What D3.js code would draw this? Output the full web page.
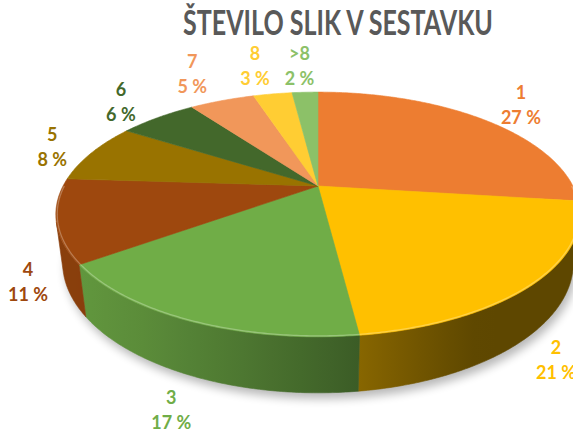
<!DOCTYPE html>
<html>
<head>
<meta charset="utf-8">
<script src="https://cdn.jsdelivr.net/npm/d3@7"></script>
<style>
  body { margin: 0; background: #fff; }
  svg { display: block; }
  text { font-family: Lato, "Open Sans", sans-serif; font-weight: bold; }
</style>
</head>
<body>
<svg id="chart" width="573" height="431"></svg>
<script>
var categories = ["1", "2", "3", "4", "5", "6", "7", "8", ">8"];
var shares = [27, 21, 17, 11, 8, 6, 5, 3, 2];
var colors = ["#ED7D31", "#FFC000", "#70AD47", "#9E480E", "#997300", "#43682B", "#F1975A", "#FFCD33", "#8CC168"];
var title = "ŠTEVILO SLIK V SESTAVKU";

var width = 573, height = 431;
var svg = d3.select("#chart");
var defs = svg.append("defs");

// simple perspective view of a tilted disc
var view = { cx: 318, cy: 186, f: 976.5, dist: 3.83, tilt: 27 * Math.PI / 180, depth: 0.212 };
var cosT = Math.cos(view.tilt), sinT = Math.sin(view.tilt);

function project(theta, r, y) {
  var x = r * Math.sin(theta), z = r * Math.cos(theta);
  var yc = y * cosT + z * sinT,
      zc = view.dist + z * cosT - y * sinT;
  return [view.cx + view.f * x / zc, view.cy - view.f * yc / zc];
}

function arcPoints(a0, a1, r, y) {
  var n = Math.max(2, Math.ceil(Math.abs(a1 - a0) / 0.01));
  var t = d3.scaleLinear().domain([0, n]).range([a0, a1]);
  return d3.range(n + 1).map(function(i) { return project(t(i), r, y); });
}

var line = d3.line();
var arcs = d3.pie().sort(null).value(function(d) { return d; })(shares);

// visible part of the side wall (tangent from the camera)
var tangent = Math.acos(-1 / (view.dist * cosT));
var wallFrom = tangent, wallTo = 2 * Math.PI - tangent;

function wallShade(theta) {
  var light = 240 * Math.PI / 180;
  return 0.37 + 0.5 * Math.pow(Math.max(0, Math.cos(theta - light)), 1.2);
}

// shadow
var blur = defs.append("filter").attr("id", "shadow")
  .attr("x", "-20%").attr("y", "-20%").attr("width", "140%").attr("height", "140%");
blur.append("feGaussianBlur").attr("stdDeviation", 5);

svg.append("path")
  .attr("d", line(arcPoints(0, 2 * Math.PI, 1, -view.depth)) + "Z")
  .attr("transform", "translate(3,6)")
  .attr("fill", "#000")
  .attr("opacity", 0.28)
  .attr("filter", "url(#shadow)");

var pie = svg.append("g");

// side walls
arcs.forEach(function(d, i) {
  var a = Math.max(d.startAngle, wallFrom), b = Math.min(d.endAngle, wallTo);
  if (a >= b) return;
  var top = arcPoints(a, b, 1, 0),
      bottom = arcPoints(b, a, 1, -view.depth);
  var xs = top.map(function(p) { return p[0]; });
  var x0 = d3.min(xs), x1 = d3.max(xs);
  var base = d3.rgb(colors[i]);
  var grad = defs.append("linearGradient").attr("id", "wall" + i)
    .attr("gradientUnits", "userSpaceOnUse")
    .attr("x1", x0).attr("x2", x1).attr("y1", 0).attr("y2", 0);
  var steps = 12;
  var stops = d3.range(steps + 1).map(function(k) {
    var th = a + (b - a) * k / steps;
    var p = project(th, 1, 0);
    var s = wallShade(th);
    return { offset: (p[0] - x0) / (x1 - x0), color: d3.rgb(base.r * s, base.g * s, base.b * s).toString() };
  }).sort(function(m, n) { return m.offset - n.offset; });
  grad.selectAll("stop").data(stops).enter().append("stop")
    .attr("offset", function(s) { return s.offset; })
    .attr("stop-color", function(s) { return s.color; });

  pie.append("path")
    .attr("d", line(top.concat(bottom)) + "Z")
    .attr("fill", "url(#wall" + i + ")")
    .attr("stroke", "url(#wall" + i + ")")
    .attr("stroke-width", 0.6);
});

// top faces
arcs.forEach(function(d, i) {
  var pts = [project(0, 0, 0)].concat(arcPoints(d.startAngle, d.endAngle, 1, 0));
  pie.append("path")
    .attr("d", line(pts) + "Z")
    .attr("fill", colors[i])
    .attr("stroke", colors[i])
    .attr("stroke-width", 0.6);
});

// light bevel on the front rim
arcs.forEach(function(d, i) {
  var a = Math.max(d.startAngle, Math.PI / 2), b = Math.min(d.endAngle, 1.5 * Math.PI);
  if (a >= b) return;
  pie.append("path")
    .attr("d", line(arcPoints(a, b, 0.995, 0)))
    .attr("fill", "none")
    .attr("stroke", d3.interpolateRgb(colors[i], "#fff")(0.35))
    .attr("stroke-width", 1.3)
    .attr("opacity", 0.8);
});

// data labels: pushed out along the ray from the pie centre through the rim,
// kept inside the plot area
var labelSize = 18, lineGap = 25, labelGap = 40;
var plot = { left: 28, right: 556, top: 66, bottom: 410 };
var centre = project(0, 0, 0);
arcs.forEach(function(d, i) {
  var mid = (d.startAngle + d.endAngle) / 2;
  var rim = Math.cos(mid) >= 0 ? project(mid, 1, 0) : project(mid, 1, -view.depth);
  var dx = rim[0] - centre[0], dy = rim[1] - centre[1], len = Math.sqrt(dx * dx + dy * dy);
  var x = rim[0] + dx / len * labelGap, y = rim[1] + dy / len * labelGap;
  x = Math.max(plot.left, Math.min(plot.right, x));
  y = Math.max(plot.top, Math.min(plot.bottom, y));
  var g = svg.append("text")
    .attr("text-anchor", "middle")
    .attr("fill", colors[i])
    .style("font-size", labelSize + "px");
  g.append("tspan").attr("x", x).attr("y", y - lineGap / 2 + labelSize * 0.36).text(categories[i]);
  g.append("tspan").attr("x", x).attr("y", y + lineGap / 2 + labelSize * 0.36).text(shares[i] + " %");
});

// title, narrowed to the width of the original (condensed) face
var t = svg.append("text")
  .attr("text-anchor", "middle")
  .attr("fill", "#595959")
  .style("font-size", "35px")
  .text(title);
var natural = t.node().getComputedTextLength();
var squeeze = Math.min(1, 310 / natural);
t.attr("transform", "translate(338,35) scale(" + squeeze + ",1)");
</script>
</body>
</html>
